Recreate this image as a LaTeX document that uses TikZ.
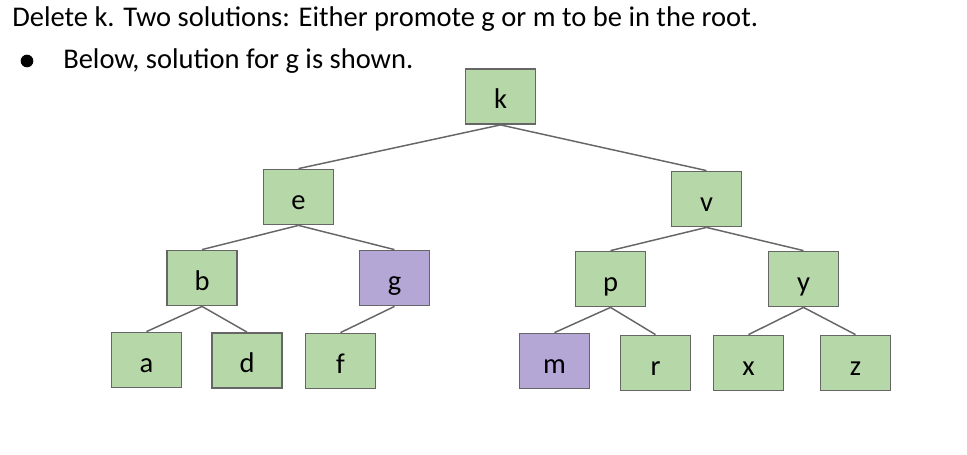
\documentclass[tikz,border=0pt]{standalone}
\usepackage{fontspec}
\setmainfont{Carlito}
\definecolor{boxgreen}{HTML}{B6D7A8}
\definecolor{boxpurple}{HTML}{B4A7D6}
\definecolor{edgegray}{HTML}{666666}
\begin{document}
\begin{tikzpicture}[x=0.75pt,y=-0.75pt,
  tnode/.style={draw=edgegray,line width=1.1pt,fill=boxgreen,minimum width=52.5pt,minimum height=41.5pt,inner sep=0pt,text height=18.5pt,text depth=0pt,font=\fontsize{21.4}{24}\selectfont},
  hl/.style={fill=boxpurple},
  edge/.style={draw=edgegray,line width=1.1pt},
  txt/.style={inner sep=0pt,font=\fontsize{21.4}{24}\selectfont}]
\useasboundingbox (0,0) rectangle (967,454);
\node[txt,anchor=base west] (t1) at (12,26) {Delete k. Two solutions: Either promote g or m to be in the root.};
\node[circle,fill=black,inner sep=0pt,minimum size=9.5pt] (bul) at (27,61) {};
\node[txt,anchor=base west] (t2) at (63,68) {Below, solution for g is shown.};
\node[tnode] (k) at (500.5,96.5) {k};
\node[tnode] (e) at (298.5,197) {e};
\node[tnode] (v) at (706.5,199) {v};
\node[tnode] (b) at (202,278) {b};
\node[tnode,hl] (g) at (394.5,278) {g};
\node[tnode] (p) at (610.5,279) {p};
\node[tnode] (y) at (803.5,279) {y};
\node[tnode] (a) at (146.5,360) {a};
\node[tnode] (d) at (247,360.5) {d};
\node[tnode] (f) at (340.5,361) {f};
\node[tnode,hl] (m) at (554.5,361) {m};
\node[tnode] (r) at (655.5,363) {r};
\node[tnode] (x) at (748.5,363) {x};
\node[tnode] (z) at (855.5,363) {z};
\foreach \u/\w in {k/e,k/v,e/b,e/g,b/a,b/d,g/f,v/p,v/y,p/m,p/r,y/x,y/z}
  \draw[edge] (\u.south) -- (\w.north);
\end{tikzpicture}
\end{document}
